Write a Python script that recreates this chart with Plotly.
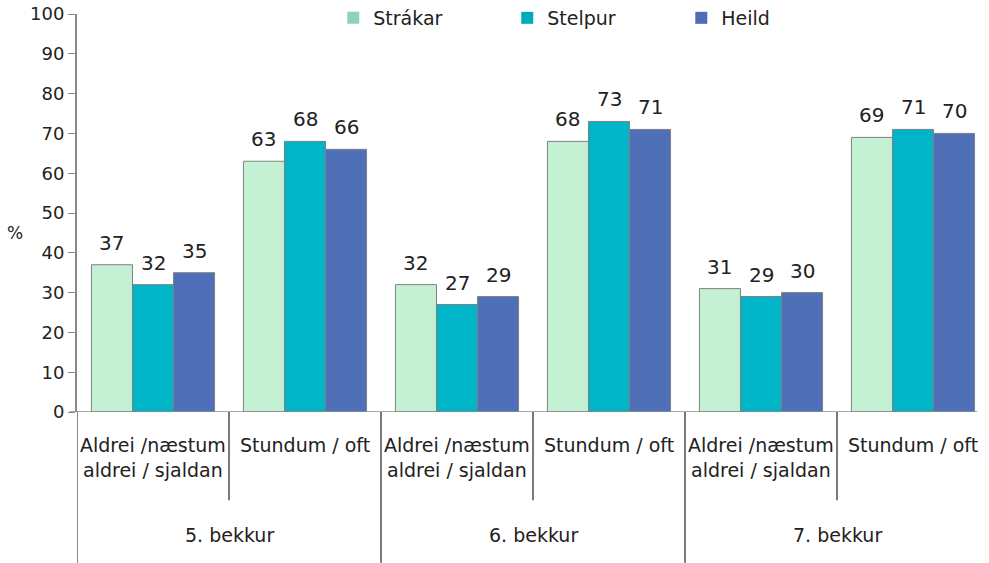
import plotly.graph_objects as go

groups = ["5. bekkur", "6. bekkur", "7. bekkur"]
subcats = ["Aldrei /næstum<br>aldrei / sjaldan", "Stundum / oft"]
series_names = ["Strákar", "Stelpur", "Heild"]
strakar = [37, 63, 32, 68, 31, 69]
stelpur = [32, 68, 27, 73, 29, 71]
heild = [35, 66, 29, 71, 30, 70]
y_ticks = [0, 10, 20, 30, 40, 50, 60, 70, 80, 90, 100]

bar_colors = ["#C4F0D4", "#00B5C8", "#4F6FB8"]
legend_colors = ["#8ED3B6", "#00AAB8", "#4F6CB8"]
FONT = "DejaVu Sans"
TXT = "#222222"

xs = list(range(len(strakar)))
fig = go.Figure()
for name, vals, c in zip(series_names, [strakar, stelpur, heild], bar_colors):
    fig.add_trace(go.Bar(x=xs, y=vals, name=name, marker=dict(color=c, line=dict(color="#808080", width=1)),
                         showlegend=False, hoverinfo="skip"))
for name, c in zip(series_names, legend_colors):
    fig.add_trace(go.Scatter(x=[None], y=[None], name=name, mode="markers",
                             marker=dict(symbol="square", size=12, color=c), showlegend=True))

annotations = []
n = 3
gap = 0.19
bw = (1 - gap) / n
for k, vals in enumerate([strakar, stelpur, heild]):
    for i, v in enumerate(vals):
        annotations.append(dict(x=i - (1 - gap) / 2 + bw * (k + 0.5), y=v, xref="x", yref="y", text=str(v),
                                showarrow=False, yanchor="bottom", yshift=8,
                                font=dict(family=FONT, size=20, color=TXT)))
for i in xs:
    annotations.append(dict(x=i, y=-0.05, xref="x", yref="paper", text=subcats[i % 2], showarrow=False,
                            yanchor="top", align="center", font=dict(family=FONT, size=19, color=TXT)))
for g, name in enumerate(groups):
    annotations.append(dict(x=2 * g + 0.5, y=-0.31, xref="x", yref="paper", text=name, showarrow=False,
                            yanchor="middle", font=dict(family=FONT, size=19, color=TXT)))
annotations.append(dict(x=-0.068, y=0.45, xref="paper", yref="paper", text="%", showarrow=False,
                        xanchor="center", font=dict(family=FONT, size=17, color=TXT)))

shapes = []
for i in range(1, len(xs)):
    xpos = i - 0.5
    long_line = (i % 2 == 0)
    shapes.append(dict(type="line", xref="x", yref="paper", x0=xpos, x1=xpos, y0=0,
                       y1=(-0.379 if long_line else -0.222), line=dict(color="#222222", width=1.2)))
shapes.append(dict(type="line", xref="x", yref="paper", x0=-0.5, x1=-0.5, y0=0, y1=-0.38,
                   line=dict(color="#888888", width=2)))
shapes.append(dict(type="line", xref="paper", yref="y", x0=-0.008, x1=0.987, y0=0, y1=0,
                   line=dict(color="#888888", width=1.5)))

fig.update_layout(
    width=989, height=563,
    margin=dict(l=77, r=0, t=14, b=151, autoexpand=False),
    plot_bgcolor="white", paper_bgcolor="white",
    barmode="group", bargap=gap, bargroupgap=0,
    font=dict(family=FONT, size=18, color=TXT),
    xaxis=dict(range=[-0.5, 5.5], showticklabels=False, showline=False, showgrid=False, zeroline=False,
               ticks="", automargin=False),
    yaxis=dict(range=[0, 100], tickvals=y_ticks, showgrid=False, zeroline=False, showline=True,
               linecolor="#888888", linewidth=2, ticks="outside", ticklen=7, tickcolor="#888888",
               tickfont=dict(family=FONT, size=18, color=TXT), automargin=False),
    legend=dict(orientation="h", x=0.281, y=0.99, xanchor="left", yanchor="middle",
                font=dict(family=FONT, size=19, color=TXT), entrywidth=129, itemwidth=30,
                bgcolor="rgba(0,0,0,0)"),
    annotations=annotations, shapes=shapes,
)
fig.write_html("out.html", config={"displayModeBar": False},
               post_script="document.body.style.margin='0px';")
